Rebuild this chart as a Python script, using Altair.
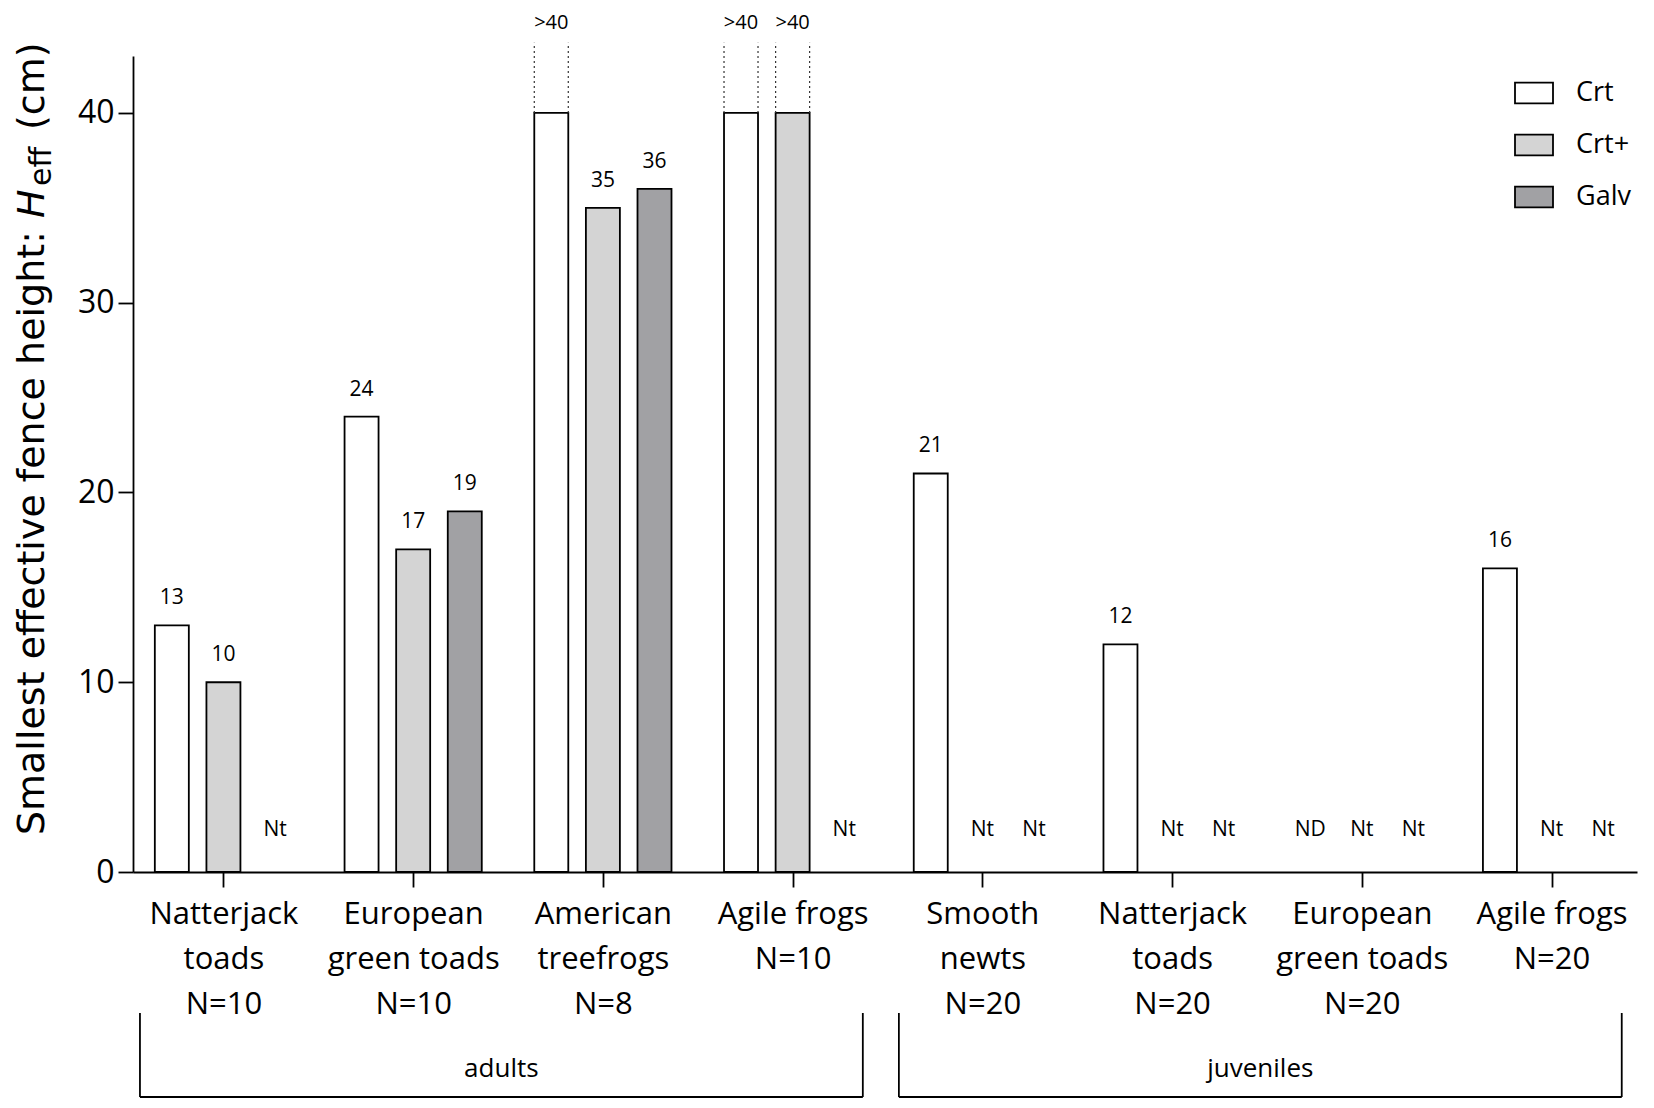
import json
import altair as alt
import pandas as pd

# ---------------- data ----------------
groups = ["Natterjack|toads|N=10", "European|green toads|N=10", "American|treefrogs|N=8",
          "Agile frogs|N=10", "Smooth|newts|N=20", "Natterjack|toads|N=20",
          "European|green toads|N=20", "Agile frogs|N=20"]
series = ["Crt", "Crt+", "Galv"]
crt = [13, 24, 40, 40, 21, 12, None, 16]
crt_plus = [10, 17, 35, 40, None, None, None, None]
galv = [None, 19, 36, None, None, None, None, None]
crt_note = ["", "", ">40", ">40", "", "", "ND", ""]
crt_plus_note = ["", "", "", ">40", "Nt", "Nt", "Nt", "Nt"]
galv_note = ["Nt", "", "", "Nt", "Nt", "Nt", "Nt", "Nt"]
colors = ["#ffffff", "#d4d4d4", "#a1a1a4"]
bracket_names = ["adults", "juveniles"]
bracket_first = [0, 4]
bracket_last = [3, 7]

# ---------------- layout constants ----------------
SLOT = 0.272
offsets = {"Crt": -SLOT, "Crt+": 0.0, "Galv": SLOT}
FONT = "Open Sans"
TFONT = "DejaVu Sans"

rows = []
for s, vals, notes in [("Crt", crt, crt_note), ("Crt+", crt_plus, crt_plus_note), ("Galv", galv, galv_note)]:
    for i, (v, n) in enumerate(zip(vals, notes)):
        rows.append({
            "group": i,
            "series": s,
            "pos": i + offsets[s],
            "value": v,
            "note": n,
            "label": n if n == ">40" else ("" if v is None else str(v)),
        })
df = pd.DataFrame(rows)

bars_df = df[df["value"].notna()]
vlab_df = df[df["value"].notna() & (df["note"] == "")]
cens_df = df[df["note"] == ">40"]
miss_df = df[df["note"].isin(["Nt", "ND"])]

br_df = pd.DataFrame({"name": bracket_names, "first": bracket_first, "last": bracket_last})
br_df["start"] = br_df["first"] - 0.44
br_df["end"] = br_df["last"] + 0.37
br_df["mid"] = (br_df["start"] + br_df["end"]) / 2

xs = alt.Scale(domain=[-0.4503, 7.4241], nice=False, zero=False)
ys = alt.Scale(domain=[0, 43], nice=False)

label_expr = "split(" + json.dumps(groups) + "[round(datum.value)], '|')"

x_axis = alt.Axis(values=list(range(len(groups))), labelExpr=label_expr, title=None, grid=False,
                  tickSize=15, tickWidth=1.8, tickColor="black", domainColor="black", domainWidth=1.8,
                  labelFont=FONT, labelFontSize=31, labelLineHeight=45, labelPadding=12,
                  labelColor="black", labelFlush=False, labelOverlap=False)
y_axis = alt.Axis(values=[0, 10, 20, 30, 40], title=None, grid=False, tickSize=15, tickWidth=1.8,
                  tickColor="black", domainColor="black", domainWidth=1.8, labelFont=FONT,
                  labelFontSize=32, labelPadding=4, labelColor="black")

bars = alt.Chart(bars_df).mark_bar(size=34, stroke="black", strokeWidth=1.8).encode(
    x=alt.X("pos:Q", scale=xs, axis=x_axis),
    y=alt.Y("value:Q", scale=ys, axis=y_axis),
    color=alt.Color("series:N", scale=alt.Scale(domain=series, range=colors),
                    legend=alt.Legend(title=None, orient="none", legendX=1381, legendY=17,
                                      symbolType="M-1,-0.55L1,-0.55L1,0.55L-1,0.55Z",
                                      symbolSize=1444, symbolStrokeColor="black",
                                      symbolStrokeWidth=1.8, symbolOpacity=1,
                                      labelFont=FONT, labelFontSize=27, labelColor="black",
                                      labelOffset=22, rowPadding=17, padding=0)),
)

vlabels = alt.Chart(vlab_df).mark_text(font=FONT, fontSize=21, dy=-27, baseline="middle", color="black").encode(
    x=alt.X("pos:Q", scale=xs), y=alt.Y("value:Q", scale=ys), text="label:N")

dot_l = alt.Chart(cens_df).mark_rule(xOffset=-17, strokeDash=[2, 3], strokeWidth=1.2, color="#333333").encode(
    x=alt.X("pos:Q", scale=xs), y=alt.Y("value:Q", scale=ys), y2=alt.datum(43.7))
dot_r = alt.Chart(cens_df).mark_rule(xOffset=17, strokeDash=[2, 3], strokeWidth=1.2, color="#333333").encode(
    x=alt.X("pos:Q", scale=xs), y=alt.Y("value:Q", scale=ys), y2=alt.datum(43.7))
clabels = alt.Chart(cens_df).mark_text(font=FONT, fontSize=20, dy=-20, baseline="middle", color="black").encode(
    x=alt.X("pos:Q", scale=xs), y=alt.datum(43.7), text="label:N")

mlabels = alt.Chart(miss_df).mark_text(font=FONT, fontSize=21, baseline="middle", color="black").encode(
    x=alt.X("pos:Q", scale=xs), y=alt.datum(2.2), text="note:N")

br_h = alt.Chart(br_df).mark_rule(color="black", strokeWidth=1.8).encode(
    x=alt.X("start:Q", scale=xs), x2="end:Q", y=alt.value(1041))
br_v = alt.Chart(br_df).transform_fold(["start", "end"], as_=["side", "edge"]).mark_rule(
    color="black", strokeWidth=1.8).encode(
    x=alt.X("edge:Q", scale=xs), y=alt.value(957), y2=alt.value(1041))
br_t = alt.Chart(br_df).mark_text(font=FONT, fontSize=26, baseline="middle", color="black").encode(
    x=alt.X("mid:Q", scale=xs), y=alt.value(1013), text="name:N")

one = alt.Data(values=[{"k": 1}])
t1 = alt.Chart(one).mark_text(text="Smallest effective fence height:", font=TFONT, fontSize=38, angle=270,
                              align="right", baseline="alphabetic", color="black").encode(
    x=alt.value(-89), y=alt.value(175))
t2 = alt.Chart(one).mark_text(text="H", font=TFONT, fontSize=38, fontStyle="italic", angle=270,
                              align="left", baseline="alphabetic", color="black").encode(
    x=alt.value(-89), y=alt.value(162))
t3 = alt.Chart(one).mark_text(text="eff", font=TFONT, fontSize=30, angle=270,
                              align="left", baseline="alphabetic", color="black").encode(
    x=alt.value(-82), y=alt.value(130))
t4 = alt.Chart(one).mark_text(text="(cm)", font=TFONT, fontSize=38, angle=270,
                              align="left", baseline="alphabetic", color="black").encode(
    x=alt.value(-89), y=alt.value(74))

chart = alt.layer(bars, vlabels, dot_l, dot_r, clabels, mlabels, br_h, br_v, br_t, t1, t2, t3, t4).properties(
    width=1504, height=816,
    padding={"left": 125, "top": 48, "right": 9, "bottom": 228},
    autosize=alt.AutoSizeParams(type="none"),
).configure_view(stroke=None)

chart.save("out.html", embed_options={"renderer": "svg", "actions": False})
